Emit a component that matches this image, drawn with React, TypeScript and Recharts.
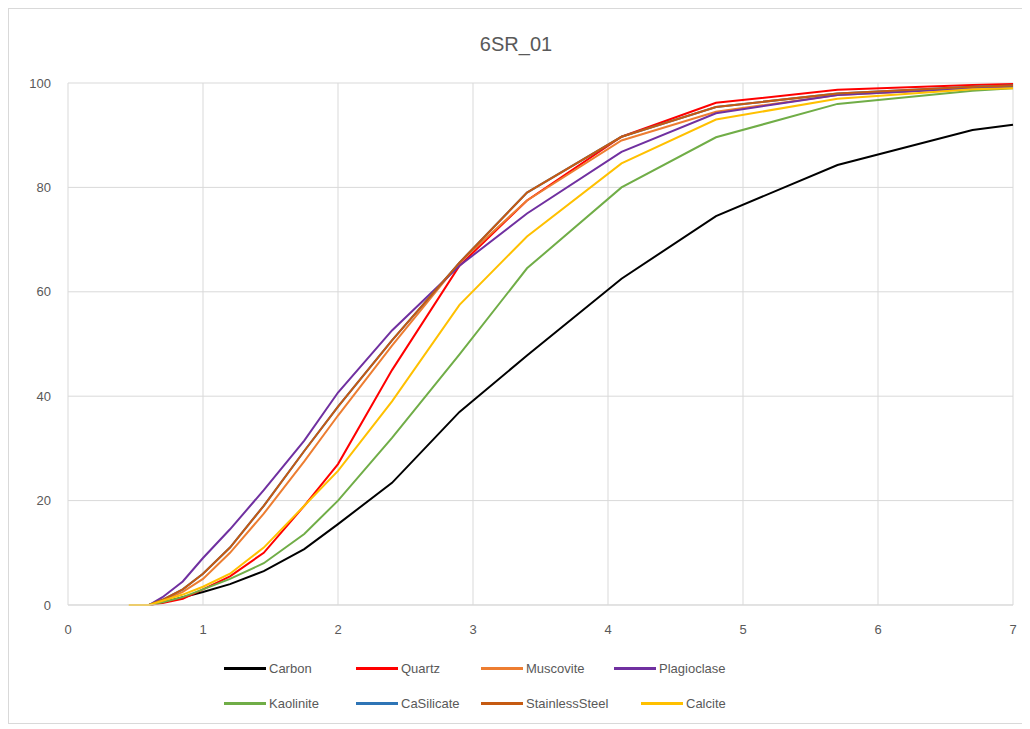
import { LineChart, Line, XAxis, YAxis, CartesianGrid } from "recharts";

const sizes = [0.45, 0.6, 0.7, 0.85, 1.0, 1.2, 1.45, 1.75, 2.0, 2.4, 2.9, 3.4, 4.1, 4.8, 5.7, 6.7, 7.0];

const carbon = [null, 0, 0.5, 1.5, 2.5, 4, 6.5, 10.7, 15.5, 23.4, 37, 47.8, 62.5, 74.5, 84.3, 91, 92];
const quartz = [null, 0, 0.4, 1.2, 3, 5.5, 10, 19, 27, 45, 65, 77.5, 89.7, 96.2, 98.7, 99.6, 99.8];
const muscovite = [null, 0, 0.8, 2.5, 5, 10, 17.5, 27.5, 36.3, 49.7, 65.6, 77.5, 89, 94.5, 97.7, 99, 99.3];
const plagioclase = [null, 0, 1.5, 4.5, 9, 14.5, 22, 31.5, 40.7, 52.6, 65, 75, 86.8, 94.2, 97.7, 99, 99.3];
const kaolinite = [null, 0, 0.5, 1.5, 3, 5, 8, 13.6, 20, 32, 48, 64.5, 80, 89.6, 96, 98.5, 99];
const caSilicate = [null, 0, 1, 3, 6, 11, 19, 29.5, 38, 50.7, 65.6, 79, 89.7, 95.4, 98, 99.3, 99.5];
const stainlessSteel = [null, 0, 1, 3, 6, 11, 19, 29.5, 38, 50.7, 65.6, 79, 89.7, 95.4, 98, 99.3, 99.5];
const calcite = [0, 0, 0.8, 2, 3.5, 6, 11, 19, 25.7, 39, 57.5, 70.6, 84.6, 93, 97, 98.8, 99];

const xTicks = [0, 1, 2, 3, 4, 5, 6, 7];
const yTicks = [0, 20, 40, 60, 80, 100];

const series = [
  { key: "Carbon", values: carbon, color: "#000000" },
  { key: "Quartz", values: quartz, color: "#FF0000" },
  { key: "Muscovite", values: muscovite, color: "#ED7D31" },
  { key: "Plagioclase", values: plagioclase, color: "#7030A0" },
  { key: "Kaolinite", values: kaolinite, color: "#70AD47" },
  { key: "CaSilicate", values: caSilicate, color: "#2E75B6" },
  { key: "StainlessSteel", values: stainlessSteel, color: "#C55A11" },
  { key: "Calcite", values: calcite, color: "#FFC000" },
];

const data = sizes.map((x, i) => {
  const row: any = { x };
  series.forEach((s) => (row[s.key] = s.values[i]));
  return row;
});

// legend item offsets, two rows like the original
const legendRows = [
  [series[0], series[1], series[2], series[3]],
  [series[4], series[5], series[6], series[7]],
];
const legendLeft = [
  [0, 132, 257, 390],
  [0, 132, 257, 417],
];

const font = "'Liberation Sans', Arial, sans-serif";

export default function App() {
  return (
    <div
      style={{
        position: "relative",
        width: 1016,
        height: 716,
        border: "1px solid #d9d9d9",
        boxSizing: "border-box",
        background: "#fff",
        fontFamily: font,
      }}
    >
      <div
        style={{
          position: "absolute",
          top: 24,
          left: 0,
          width: "100%",
          textAlign: "center",
          fontSize: 20,
          color: "#595959",
        }}
      >
        6SR_01
      </div>
      <LineChart
        width={1014}
        height={712}
        data={data}
        margin={{ top: 74, right: 10, left: 0, bottom: 86 }}
      >
        <CartesianGrid stroke="#d9d9d9" strokeWidth={1} />
        <XAxis
          dataKey="x"
          type="number"
          domain={[0, 7]}
          ticks={xTicks}
          stroke="#d9d9d9"
          tickLine={false}
          tickMargin={14}
          tick={{ fill: "#595959", fontSize: 13, fontFamily: font }}
          height={30}
        />
        <YAxis
          type="number"
          domain={[0, 100]}
          ticks={yTicks}
          axisLine={false}
          tickLine={false}
          tickSize={0}
          tickMargin={17}
          width={59}
          tick={{ fill: "#595959", fontSize: 13, fontFamily: font }}
        />
        {series.map((s) => (
          <Line
            key={s.key}
            dataKey={s.key}
            type="linear"
            stroke={s.color}
            strokeWidth={2}
            dot={false}
            isAnimationActive={false}
          />
        ))}
      </LineChart>
      {legendRows.map((row, r) => (
        <div key={r} style={{ position: "absolute", top: 652 + r * 35, left: 215 }}>
          {row.map((s, i) => (
            <div
              key={s.key}
              style={{
                position: "absolute",
                left: legendLeft[r][i],
                top: 0,
                display: "flex",
                alignItems: "center",
                whiteSpace: "nowrap",
                fontSize: 13,
                color: "#595959",
              }}
            >
              <span
                style={{
                  display: "inline-block",
                  width: 42,
                  height: 3,
                  background: s.color,
                  marginRight: 3,
                }}
              />
              {s.key}
            </div>
          ))}
        </div>
      ))}
    </div>
  );
}
